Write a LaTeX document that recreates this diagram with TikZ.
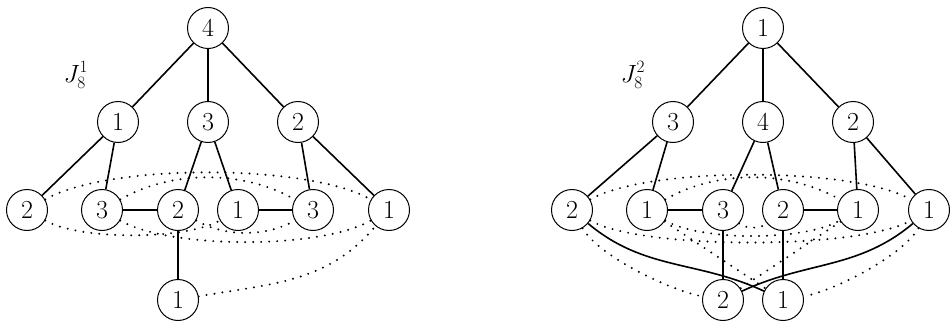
\documentclass[tikz,border=0pt]{standalone}
\usetikzlibrary{backgrounds}
\begin{document}
\begin{tikzpicture}[x=1pt,y=-1pt,
  vert/.style={circle,draw,line width=1pt,fill=white,minimum size=41pt,inner sep=0pt,font=\fontsize{26}{28}\selectfont},
  sol/.style={line width=1.6pt},
  dot/.style={line width=2.2pt,dash pattern=on 0pt off 8pt,line cap=round},
  lab/.style={font=\fontsize{26}{30}\selectfont}]
\useasboundingbox (0,0) rectangle (950,321);
% ---------- left graph ----------
\node[lab] (LJ) at (76,75) {$J_8^1$};
\node[vert] (t) at (208,28) {4};
\node[vert] (p1) at (118,122) {1};
\node[vert] (p2) at (208,122) {3};
\node[vert] (p3) at (298,122) {2};
\node[vert] (a) at (27,210) {2};
\node[vert] (b) at (102,210) {3};
\node[vert] (c) at (178,210) {2};
\node[vert] (d) at (238,210) {1};
\node[vert] (e) at (313,210) {3};
\node[vert] (f) at (389,210) {1};
\node[vert] (g) at (178,300) {1};
\begin{scope}[on background layer]
\draw[sol] (t)--(p1) (t)--(p2) (t)--(p3);
\draw[sol] (p1)--(a) (p1)--(b) (p2)--(c) (p2)--(d) (p3)--(e) (p3)--(f);
\draw[sol] (b)--(c) (d)--(e) (c)--(g);
\draw[dot] (a) to[out=30,in=150,looseness=0.57] (f);
\draw[dot] (b) to[out=30,in=150,looseness=0.87] (e);
\draw[dot] (a) to[out=-30,in=-150,looseness=0.58] (d);
\draw[dot] (c) to[out=-30,in=-150,looseness=0.86] (e);
\draw[dot] (b) to[out=-30,in=-150,looseness=0.59] (f);
\draw[dot] (g) to[out=10,in=-130] (f);
\end{scope}
% ---------- right graph ----------
\node[lab] (RJ) at (633,75) {$J_8^2$};
\node[vert] (T) at (763,28) {1};
\node[vert] (Q1) at (673,122) {3};
\node[vert] (Q2) at (763,122) {4};
\node[vert] (Q3) at (853,122) {2};
\node[vert] (A) at (572,210) {2};
\node[vert] (B) at (647,210) {1};
\node[vert] (C) at (723,210) {3};
\node[vert] (D) at (783,210) {2};
\node[vert] (E) at (858,210) {1};
\node[vert] (F) at (929,210) {1};
\node[vert] (G) at (723,300) {2};
\node[vert] (H) at (783,300) {1};
\begin{scope}[on background layer]
\draw[sol] (T)--(Q1) (T)--(Q2) (T)--(Q3);
\draw[sol] (Q1)--(A) (Q1)--(B) (Q2)--(C) (Q2)--(D) (Q3)--(E) (Q3)--(F);
\draw[sol] (B)--(C) (D)--(E) (C)--(G) (D)--(H);
\draw[sol] (A) to[out=-40,in=155] (H);
\draw[sol] (F) to[out=-140,in=25] (G);
\draw[dot] (A) to[out=30,in=150,looseness=0.53] (F);
\draw[dot] (B) to[out=30,in=150,looseness=0.87] (E);
\draw[dot] (A) to[out=-30,in=-150,looseness=0.47] (F);
\draw[dot] (B) to[out=-30,in=-150,looseness=0.61] (E);
\draw[dot] (C) to[out=-40,in=-140,looseness=0.8] (D);
\draw[dot] (A) to[out=-60,in=170,looseness=0.6] (G);
\draw[dot] (F) to[out=-120,in=10,looseness=0.6] (H);
\draw[dot] (B) -- (H);
\draw[dot] (E) -- (G);
\end{scope}
\end{tikzpicture}
\end{document}
